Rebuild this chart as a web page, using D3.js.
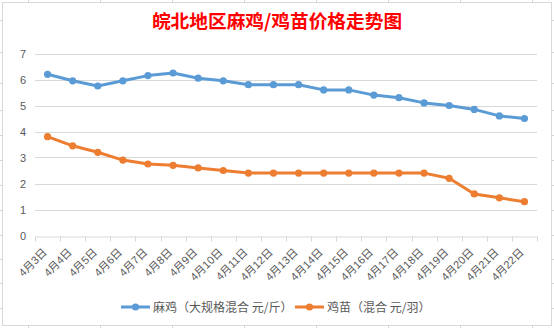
<!DOCTYPE html>
<html><head><meta charset="utf-8">
<script src="https://cdn.jsdelivr.net/npm/d3@7"></script>
<style>
html,body{margin:0;padding:0;background:#fff;}
svg{display:block;}
</style></head>
<body>
<svg id="c" width="554" height="328"></svg>
<script>
const title = "皖北地区麻鸡/鸡苗价格走势图";
const categories = ["4月3日","4月4日","4月5日","4月6日","4月7日","4月8日","4月9日","4月10日","4月11日","4月12日","4月13日","4月14日","4月15日","4月16日","4月17日","4月18日","4月19日","4月20日","4月21日","4月22日"];
const maji = [6.2,5.95,5.75,5.95,6.15,6.25,6.05,5.95,5.8,5.8,5.8,5.6,5.6,5.4,5.3,5.1,5.0,4.85,4.6,4.5];
const jimiao = [3.8,3.45,3.2,2.9,2.75,2.7,2.6,2.5,2.4,2.4,2.4,2.4,2.4,2.4,2.4,2.4,2.2,1.6,1.45,1.3];
const seriesNames = ["麻鸡（大规格混合 元/斤）","鸡苗（混合 元/羽）"];
const yTicks = [0,1,2,3,4,5,6,7];
const sheetCols = [28,100,172,244,316,388,460,532];
const sheetRows = [20,52,83,110,135,160,185,210,235,259,283,308];

const colors = ["#5b9bd5","#ed7d31"];
const svg = d3.select("#c");

// spreadsheet grid stubs outside the chart
const g0 = svg.append("g").attr("stroke","#d4d4d4").attr("stroke-width",1);
sheetCols.forEach(x=>{
  g0.append("line").attr("x1",x+0.5).attr("x2",x+0.5).attr("y1",0).attr("y2",2);
  g0.append("line").attr("x1",x+0.5).attr("x2",x+0.5).attr("y1",326).attr("y2",328);
});
sheetRows.forEach(y=>{
  g0.append("line").attr("x1",0).attr("x2",2).attr("y1",y+0.5).attr("y2",y+0.5);
  g0.append("line").attr("x1",552).attr("x2",554).attr("y1",y+0.5).attr("y2",y+0.5);
});
// chart area border
svg.append("rect").attr("x",2.5).attr("y",2.5).attr("width",549).attr("height",323)
  .attr("fill","#fff").attr("stroke","#d9d9d9").attr("stroke-width",1);

const x = d3.scaleBand().domain(categories).range([35,537]).padding(0);
const y = d3.scaleLinear().domain([0,7]).range([235.5,53.5]);

// gridlines
svg.append("g").selectAll("line").data(yTicks.filter(d=>d>0)).join("line")
  .attr("x1",35).attr("x2",537)
  .attr("y1",d=>Math.round(y(d))+0.5).attr("y2",d=>Math.round(y(d))+0.5)
  .attr("stroke","#d9d9d9").attr("stroke-width",1);

// y axis labels
svg.append("g").selectAll("text").data(yTicks).join("text")
  .attr("x",26).attr("y",d=>y(d)+4)
  .attr("text-anchor","end")
  .attr("font-family","Liberation Sans, Arial, sans-serif").attr("font-size",11)
  .attr("fill","#595959").text(d=>d);

// x axis
const xAxis = d3.axisBottom(x).tickSize(0).tickFormat("");
const xg = svg.append("g").attr("transform",`translate(0,${Math.round(y(0))+0.5})`).call(xAxis);
xg.select(".domain").attr("stroke","#d9d9d9");
const bounds = categories.map(c=>x(c)).concat([x.range()[1]]);
xg.selectAll(".bt").data(bounds).join("line").attr("class","bt")
  .attr("x1",d=>Math.round(d)+0.5).attr("x2",d=>Math.round(d)+0.5)
  .attr("y1",0).attr("y2",5).attr("stroke","#d9d9d9");

svg.append("g").selectAll("text").data(categories).join("text")
  .attr("transform",d=>`translate(${x(d)+x.bandwidth()/2},${253}) rotate(-45)`)
  .attr("text-anchor","end")
  .attr("font-family","Liberation Sans, 'Noto Sans CJK SC', sans-serif").attr("font-size",11)
  .attr("fill","#595959").text(d=>d);

// lines
const cx = d=>x(d)+x.bandwidth()/2;
[maji,jimiao].forEach((vals,si)=>{
  const line = d3.line().x((v,i)=>cx(categories[i])).y(v=>y(v));
  svg.append("path").datum(vals).attr("d",line)
    .attr("fill","none").attr("stroke",colors[si]).attr("stroke-width",3)
    .attr("stroke-linejoin","round").attr("stroke-linecap","round");
  svg.append("g").selectAll("circle").data(vals).join("circle")
    .attr("cx",(v,i)=>cx(categories[i])).attr("cy",v=>y(v)).attr("r",3.6)
    .attr("fill",colors[si]);
});

// title
svg.append("text").attr("x",277).attr("y",28).attr("text-anchor","middle")
  .attr("font-family","'Noto Sans CJK SC', sans-serif").attr("font-weight","bold")
  .attr("font-size",18.7).attr("fill","#ff0000").text(title);

// legend
const legX = [121,295];
seriesNames.forEach((n,si)=>{
  const lg = svg.append("g").attr("transform",`translate(${legX[si]},307)`);
  lg.append("line").attr("x1",0).attr("x2",29).attr("y1",0).attr("y2",0)
    .attr("stroke",colors[si]).attr("stroke-width",3);
  lg.append("circle").attr("cx",14.5).attr("cy",0).attr("r",3.6).attr("fill",colors[si]);
  lg.append("text").attr("x",32).attr("y",4.5)
    .attr("font-family","'Noto Sans CJK SC', sans-serif").attr("font-size",12)
    .attr("fill","#595959").text(n);
});
</script>
</body></html>
